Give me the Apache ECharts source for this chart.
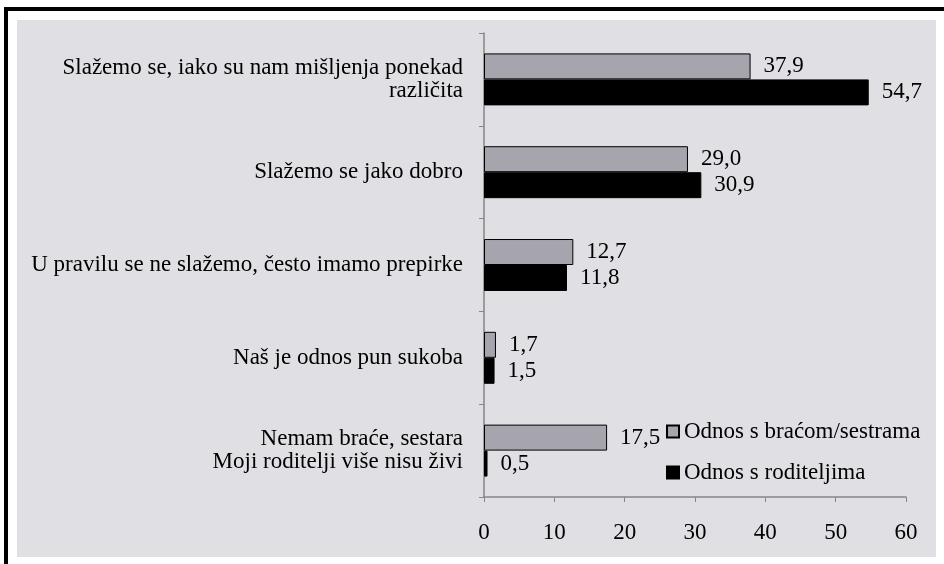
<!DOCTYPE html>
<html lang="hr">
<head>
<meta charset="UTF-8">
<title>Odnos s braćom/sestrama i roditeljima</title>
<script src="https://cdn.jsdelivr.net/npm/echarts@6/dist/echarts.min.js"></script>
<style>
  body { margin: 0; background: #fff; }
</style>
</head>
<body>
<div id="main" style="width: 944px;height: 564px"></div>
<script type="text/javascript">
  var categories = [
    'Slažemo se, iako su nam mišljenja ponekad\nrazličita',
    'Slažemo se jako dobro',
    'U pravilu se ne slažemo, često imamo prepirke',
    'Naš je odnos pun sukoba',
    'Nemam braće, sestara\nMoji roditelji više nisu živi'
  ];
  var siblings = [37.9, 29.0, 12.7, 1.7, 17.5];
  var parents = [54.7, 30.9, 11.8, 1.5, 0.5];
  var seriesNames = ['Odnos s braćom/sestrama', 'Odnos s roditeljima'];

  var font = '"Liberation Serif", "Times New Roman", serif';
  var fmt = function (p) { return p.value.toFixed(1).replace('.', ','); };

  var myChart = echarts.init(document.getElementById('main'));
  var option = {
    backgroundColor: '#fff',
    animation: false,
    textStyle: { fontFamily: font },
    graphic: [
      { type: 'rect', shape: { x: 17, y: 20, width: 919, height: 537 }, style: { fill: '#e0dfe4' }, z: -10 },
      { type: 'rect', shape: { x: 4, y: 7, width: 940, height: 4 }, style: { fill: '#000' }, z: -10 },
      { type: 'rect', shape: { x: 4, y: 7, width: 4, height: 557 }, style: { fill: '#000' }, z: -10 }
    ],
    legend: {
      orient: 'vertical',
      left: 666,
      top: 420,
      padding: 0,
      itemWidth: 12,
      itemHeight: 12,
      itemGap: 18,
      icon: 'rect',
      textStyle: { fontFamily: font, fontSize: 23, color: '#000' },
      data: seriesNames
    },
    grid: { left: 484, right: 38, top: 33, bottom: 67 },
    xAxis: {
      type: 'value',
      min: 0,
      max: 60,
      interval: 10,
      splitLine: { show: false },
      axisLine: { show: true, lineStyle: { color: '#868686', width: 1.5 } },
      axisTick: { show: true, length: 5, lineStyle: { color: '#868686' } },
      axisLabel: { margin: 24, fontFamily: font, fontSize: 23, color: '#000' }
    },
    yAxis: {
      type: 'category',
      inverse: true,
      data: categories,
      axisLine: { lineStyle: { color: '#868686', width: 1.5 } },
      axisTick: { show: true, length: 5, lineStyle: { color: '#868686' } },
      axisLabel: { margin: 21, fontFamily: font, fontSize: 23, color: '#000', lineHeight: 23, align: 'right' }
    },
    series: [
      {
        name: seriesNames[0],
        type: 'bar',
        data: siblings,
        barGap: 0,
        barCategoryGap: '44%',
        itemStyle: { color: '#a6a4ac', borderColor: '#000', borderWidth: 1 },
        label: { show: true, position: 'right', distance: 13, formatter: fmt, fontFamily: font, fontSize: 23, color: '#000' }
      },
      {
        name: seriesNames[1],
        type: 'bar',
        data: parents,
        itemStyle: { color: '#000', borderColor: '#000', borderWidth: 1 },
        label: { show: true, position: 'right', distance: 13, formatter: fmt, fontFamily: font, fontSize: 23, color: '#000' }
      }
    ]
  };
  myChart.setOption(option);
</script>
</body>
</html>
